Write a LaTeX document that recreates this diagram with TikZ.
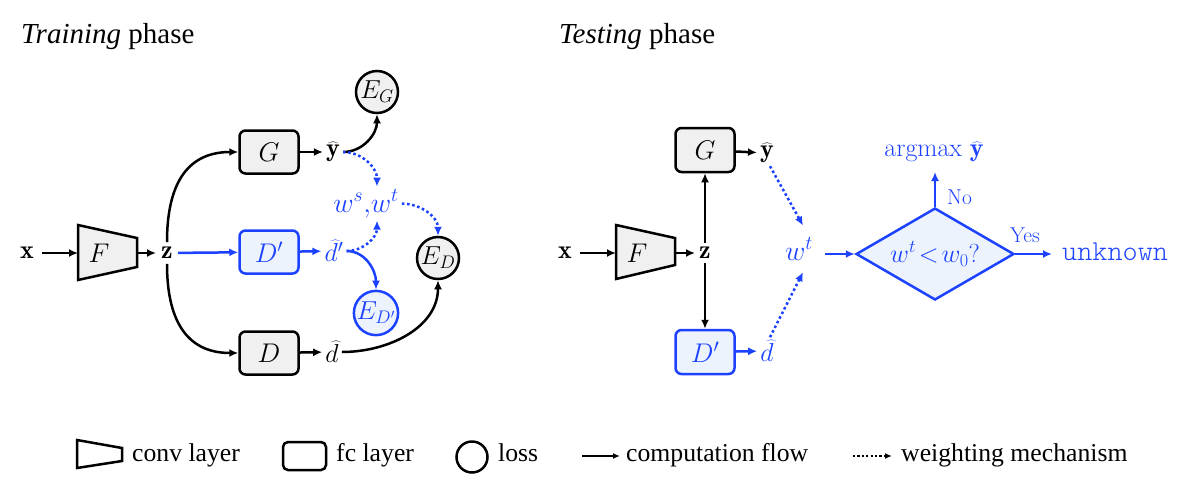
\RequirePackage{fix-cm}
\documentclass[tikz,border=0pt]{standalone}
\usepackage{fontspec}
\newfontfamily\tms{Liberation Serif}
\newfontfamily\lmtl{Latin Modern Mono Light}
\usetikzlibrary{arrows.meta,shapes.geometric}
\definecolor{mblue}{RGB}{28,66,255}
\definecolor{lblue}{RGB}{236,243,252}
\definecolor{lgray}{RGB}{240,240,240}
\begin{document}
\begin{tikzpicture}[x=1pt,y=1pt,
  font=\fontsize{26}{30}\selectfont,
  lw/.style={line width=2.5pt},
  fcbox/.style={draw,lw,rounded corners=6pt,minimum width=59pt,minimum height=43pt,inner sep=0pt,fill=lgray,font=\fontsize{27}{30}\selectfont},
  fcblue/.style={fcbox,draw=mblue,fill=lblue,text=mblue},
  lossc/.style={circle,draw,lw,minimum size=42pt,inner sep=0pt,fill=lgray,font=\fontsize{26}{28}\selectfont},
  lossblue/.style={lossc,draw=mblue,fill=lblue,text=mblue},
  convshape/.style={draw,lw,fill=lgray,line join=miter},
  flow/.style={lw,-{Latex[length=9pt,width=8pt]}},
  bflow/.style={flow,draw=mblue},
  wflow/.style={flow,draw=mblue,dash pattern=on 2.6pt off 2.6pt},
  sym/.style={inner sep=3pt},
  lgtext/.style={anchor=base west,inner sep=0pt,font=\tms\fontsize{25.7}{30}\selectfont},
  ttl/.style={anchor=base west,inner sep=0pt,font=\tms\fontsize{29}{32}\selectfont},
]
\useasboundingbox (0,0) rectangle (1181,-485);

% titles
\node[ttl] (t1) at (21,-43) {\textit{Training} phase};
\node[ttl] (t2) at (559,-43) {\textit{Testing} phase};

% ---------------- Training phase
\node[inner sep=8pt] (x1) at (27,-253) {$\mathbf{x}$};
\draw[convshape] (78,-225) -- (137,-238) -- (137,-267) -- (78,-280) -- cycle;
\node[font=\fontsize{27}{30}\selectfont] (F1) at (99,-253) {$F$};
\coordinate (F1in) at (78,-253);
\coordinate (F1out) at (137,-253);
\node[inner sep=5pt] (z1) at (167,-253) {$\mathbf{z}$};
\node[fcbox] (G1) at (269,-152) {$G$};
\node[fcblue] (Dp1) at (269,-252) {$D'$};
\node[fcbox] (D1) at (269,-353) {$D$};
\node[sym] (y1) at (333,-152) {$\widehat{\mathbf{y}}$};
\node[sym,text=mblue] (dp1) at (334,-251) {$\widehat{d}'$};
\node[sym] (d1) at (332,-352) {$\widehat{d}$};
\node[lossc] (EG) at (377,-92) {$E_G$};
\node[lossc] (ED) at (438,-258) {$E_D$};
\node[lossblue] (EDp) at (376,-313) {$E_{D'}$};
\node[anchor=base,inner sep=3pt,text=mblue,font=\fontsize{28}{32}\selectfont] (w1) at (366,-212) {$w^s{,}w^t$};

\draw[flow] (x1) -- (F1in);
\draw[flow] (F1out) -- (z1);
\draw[flow] (z1.north) to[out=90,in=180,looseness=1.2] (G1.west);
\draw[bflow] (z1) -- (Dp1);
\draw[flow] (z1.south) to[out=-90,in=180,looseness=1.2] (D1.west);
\draw[flow] (G1) -- (y1);
\draw[bflow] (Dp1) -- (dp1);
\draw[flow] (D1) -- (d1);
\draw[flow] (y1.east) to[out=0,in=-90] (EG.south);
\draw[wflow] (y1.east) to[out=0,in=90] ([xshift=11pt]w1.north);
\draw[wflow] (dp1.east) to[out=0,in=-90] ([xshift=11pt]w1.south);
\draw[wflow] (w1.east) to[out=0,in=90] (ED.north);
\draw[bflow] (dp1.east) to[out=0,in=90] (EDp.north);
\draw[flow] (d1.east) to[out=0,in=-90] (ED.south);

% ---------------- Testing phase
\node[inner sep=8pt] (x2) at (565,-253) {$\mathbf{x}$};
\draw[convshape] (616,-225) -- (675,-238) -- (675,-265) -- (616,-279) -- cycle;
\node[font=\fontsize{27}{30}\selectfont] (F2) at (637,-253) {$F$};
\coordinate (F2in) at (616,-253);
\coordinate (F2out) at (675,-253);
\node[inner sep=4pt] (z2) at (705,-253) {$\mathbf{z}$};
\node[fcbox,minimum height=44pt] (G2) at (705,-150) {$G$};
\node[fcblue,minimum height=44pt] (Dp2) at (705,-352) {$D'$};
\node[sym] (y2) at (767,-153) {$\widehat{\mathbf{y}}$};
\node[sym,text=mblue] (d2) at (767,-351) {$\widehat{d}$};
\node[anchor=base,inner sep=12pt,text=mblue,font=\fontsize{28}{32}\selectfont] (wt2) at (799,-260) {$w^t$};
\node[diamond,draw=mblue,lw,fill=lblue,text=mblue,aspect=1.72,minimum width=158pt,minimum height=92pt,inner sep=0pt] (dia) at (935,-254) {$w^t\!<\!w_0?$};
\node[text=mblue] (argm) at (934,-152) {argmax $\widehat{\mathbf{y}}$};
\coordinate (noTip) at (935,-172);
\node[anchor=west,text=mblue,font=\fontsize{21.5}{24}\selectfont,inner sep=0pt] (no) at (947,-197) {No};
\node[text=mblue,font=\fontsize{21.5}{24}\selectfont,inner sep=0pt] (yes) at (1025,-235) {Yes};
\coordinate (yesTip) at (1052,-254);
\node[anchor=base west,inner sep=0pt,text=mblue,font=\lmtl\fontsize{28.8}{32}\selectfont] (unk) at (1062,-260) {unknown};

\draw[flow] (x2) -- (F2in);
\draw[flow] (F2out) -- (z2);
\draw[flow] (z2) -- (G2);
\draw[flow] (z2) -- (Dp2);
\draw[flow] (G2) -- (y2);
\draw[bflow] (Dp2) -- (d2);
\draw[wflow] ([xshift=3pt]y2.south) -- ([xshift=4pt]wt2.north);
\draw[wflow] ([xshift=3pt]d2.north) -- ([xshift=4pt]wt2.south);
\draw[bflow] (wt2.east |- dia.west) -- (dia.west);
\draw[bflow] (dia.north) -- (noTip);
\draw[bflow] (dia.east) -- (yesTip);

% ---------------- Legend
\draw[lw,line join=miter] (77,-440) -- (122,-448) -- (122,-461) -- (77,-468) -- cycle;
\node[lgtext] (l1) at (132,-461) {conv layer};
\node[draw,lw,rounded corners=5pt,minimum width=43pt,minimum height=28pt,inner sep=0pt] (l2box) at (304.5,-456) {};
\node[lgtext] (l2) at (336,-461) {fc layer};
\node[circle,draw,lw,minimum size=31pt,inner sep=0pt] (l3c) at (472,-457) {};
\node[lgtext] (l3) at (498,-461) {loss};
\coordinate (l4a) at (582,-456);
\coordinate (l4b) at (620,-456);
\draw[lw,-{Latex[length=7pt,width=6pt]}] (l4a) -- (l4b);
\node[lgtext] (l4) at (626,-461) {computation flow};
\coordinate (l5a) at (853,-456);
\coordinate (l5b) at (892,-456);
\draw[lw,dash pattern=on 2.2pt off 2.2pt,-{Latex[length=7pt,width=6pt]}] (l5a) -- (l5b);
\node[lgtext] (l5) at (901,-461) {weighting mechanism};
\end{tikzpicture}
\end{document}
